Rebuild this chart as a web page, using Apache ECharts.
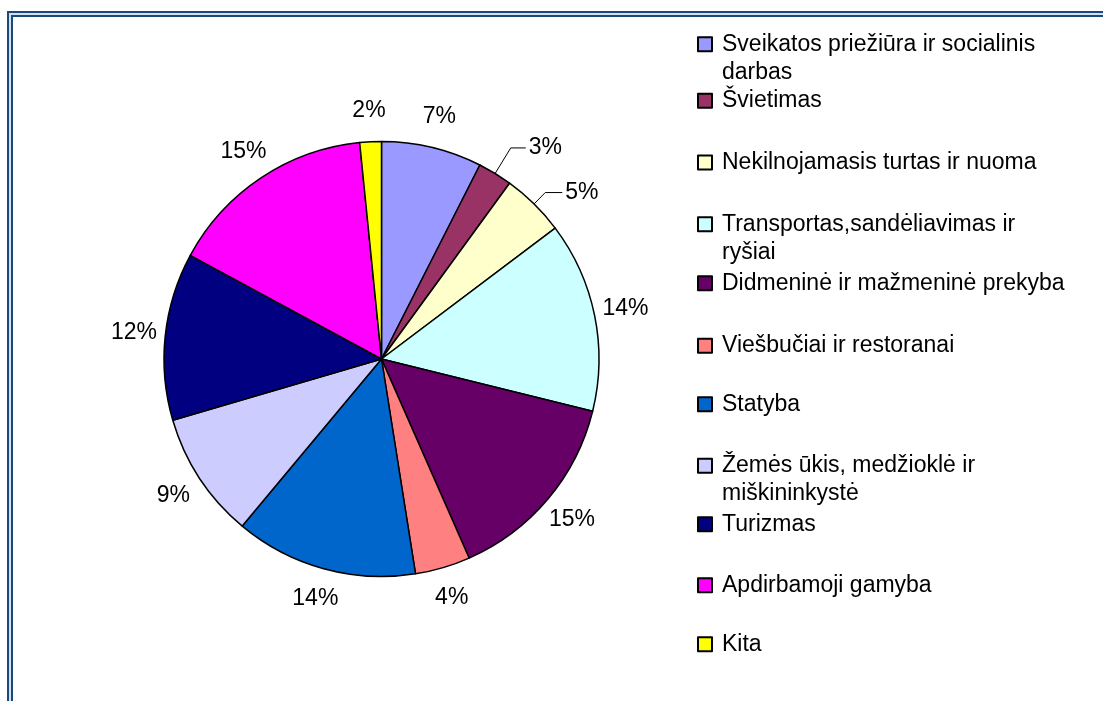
<!DOCTYPE html>
<html>
<head>
<meta charset="utf-8">
<title>Pie</title>
<script src="https://cdn.jsdelivr.net/npm/echarts@6/dist/echarts.min.js"></script>
<style>
  html, body { margin: 0; padding: 0; background: #fff; }
  #chart { width: 1103px; height: 701px; }
</style>
</head>
<body>
<div id="chart"></div>
<script>
// slices, clockwise from 12 o'clock
const categories = [
  'Sveikatos priežiūra ir socialinis darbas',
  'Švietimas',
  'Nekilnojamasis turtas ir nuoma',
  'Transportas,sandėliavimas ir ryšiai',
  'Didmeninė ir mažmeninė prekyba',
  'Viešbučiai ir restoranai',
  'Statyba',
  'Žemės ūkis, medžioklė ir miškininkystė',
  'Turizmas',
  'Apdirbamoji gamyba',
  'Kita'
];
// legend text, wrapped the way the original wraps it
const legendLabels = [
  'Sveikatos priežiūra ir socialinis\ndarbas',
  'Švietimas',
  'Nekilnojamasis turtas ir nuoma',
  'Transportas,sandėliavimas ir\nryšiai',
  'Didmeninė ir mažmeninė prekyba',
  'Viešbučiai ir restoranai',
  'Statyba',
  'Žemės ūkis, medžioklė ir\nmiškininkystė',
  'Turizmas',
  'Apdirbamoji gamyba',
  'Kita'
];
const shares = [7.47, 2.55, 4.70, 14.14, 14.54, 4.10, 13.56, 9.40, 12.45, 15.49, 1.60];
const colors = ['#9999FF', '#993366', '#FFFFCC', '#CCFFFF', '#660066', '#FF8080',
                '#0066CC', '#CCCCFF', '#000080', '#FF00FF', '#FFFF00'];

// layout
const font = "'Liberation Sans', Arial, sans-serif";
const center = [381.5, 359];
const legendLeft = 697;
const legendCenters = [44.3, 100.8, 162.5, 224.2, 283.2, 345.8, 404.2, 465.8, 524.2, 585.2, 644.2];
const legendLineGap = 28.3;
const leaderLines = { 1: [30, 15], 2: [16, 17] };

const pctLabel = p => Math.round(p.percent) + '%';

const chart = echarts.init(document.getElementById('chart'), null, { renderer: 'canvas' });

// one legend per entry so the uneven spacing of the original can be kept;
// the icon sits on the first line, a wrapped second line is added as text below
const legends = categories.map((name, i) => ({
  orient: 'vertical',
  left: legendLeft,
  top: legendCenters[i] - 14,
  padding: 0,
  itemWidth: 14,
  itemHeight: 14,
  icon: 'rect',
  selectedMode: false,
  data: [name],
  formatter: () => legendLabels[i].split('\n')[0],
  textStyle: { fontFamily: font, fontSize: 23, color: '#000', lineHeight: 28, padding: [0, 0, 0, 5] }
}));

const secondLines = [];
legendLabels.forEach((lbl, i) => {
  const parts = lbl.split('\n');
  if (parts.length > 1) {
    secondLines.push({
      type: 'text', silent: true,
      style: {
        text: parts[1], x: legendLeft + 25, y: legendCenters[i] + legendLineGap,
        verticalAlign: 'middle', align: 'left',
        font: '23px ' + font, fill: '#000'
      }
    });
  }
});

chart.setOption({
  animation: false,
  color: colors,
  legend: legends,
  graphic: [
    { type: 'rect', silent: true, z: -1, shape: { x: 10, y: 14, width: 1300, height: 900 },
      style: { fill: null, stroke: '#d3dfee', lineWidth: 6 } },
    { type: 'rect', silent: true, shape: { x: 8, y: 12, width: 1300, height: 900 },
      style: { fill: null, stroke: '#1a4a7b', lineWidth: 2 } },
    { type: 'rect', silent: true, shape: { x: 12, y: 16, width: 1300, height: 900 },
      style: { fill: null, stroke: '#1a4a7b', lineWidth: 2 } }
  ].concat(secondLines),
  series: [
    {
      type: 'pie',
      center: center,
      radius: 217.5,
      startAngle: 90,
      clockwise: true,
      avoidLabelOverlap: false,
      emphasis: { disabled: true },
      itemStyle: { borderColor: '#000', borderWidth: 1.5 },
      label: {
        position: 'outside',
        formatter: pctLabel,
        fontFamily: font,
        fontSize: 23,
        color: '#000',
        distanceToLabelLine: 3
      },
      labelLine: { lineStyle: { color: '#000', width: 1 } },
      data: categories.map((name, i) => {
        const ll = leaderLines[i];
        return {
          name: name,
          value: shares[i],
          label: { show: !!ll },
          labelLine: ll ? { show: true, length: ll[0], length2: ll[1] } : { show: false }
        };
      })
    },
    {
      // transparent ring that carries the plain percentage labels
      type: 'pie',
      center: center,
      radius: [234, 258],
      startAngle: 90,
      clockwise: true,
      silent: true,
      legendHoverLink: false,
      avoidLabelOverlap: false,
      emphasis: { disabled: true },
      itemStyle: { color: 'rgba(0,0,0,0)', borderWidth: 0 },
      label: {
        position: 'inside',
        formatter: pctLabel,
        fontFamily: font,
        fontSize: 23,
        color: '#000'
      },
      labelLine: { show: false },
      data: shares.map((v, i) => ({ value: v, label: { show: !leaderLines[i] } }))
    }
  ]
});
</script>
</body>
</html>
